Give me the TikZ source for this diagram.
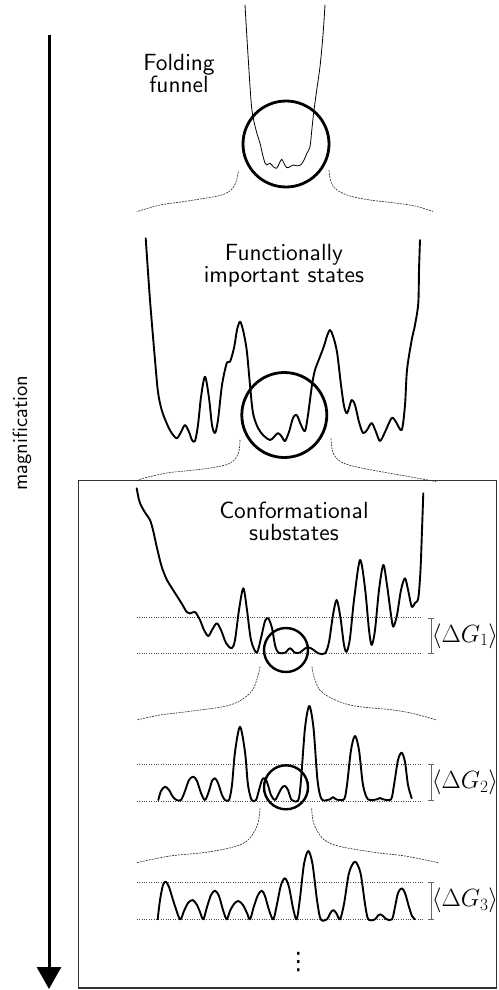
\documentclass[tikz,border=0pt]{standalone}
\usetikzlibrary{arrows.meta}
\font\lblfont=cmss10 at 23.4pt
\font\magfont=cmss10 at 20.5pt
\font\dotfont="DejaVu Sans" at 24pt
\begin{document}
\begin{tikzpicture}[x=1pt,y=-1pt,
  land/.style={line width=1.9pt, line join=round, line cap=round},
  thinland/.style={line width=0.8pt, line join=round, line cap=round},
  lens/.style={line width=2.8pt},
  smalllens/.style={line width=2.4pt},
  zoomline/.style={line width=0.6pt, dash pattern=on 2pt off 1pt, black!85},
  level/.style={line width=0.6pt, dash pattern=on 0.8pt off 1.6pt, black!70},
  gap/.style={line width=0.6pt, black!60, {Bar[width=6pt,line width=0.6pt]}-{Bar[width=6pt,line width=0.6pt]}},
  lbl/.style={font=\lblfont, anchor=base, inner sep=0pt},
  mlbl/.style={font=\fontsize{23}{27}\selectfont, inner sep=0pt}
]
\useasboundingbox (0,0) rectangle (498,990);

% magnification arrow
\coordinate (atop) at (49,35);
\coordinate (abot) at (49,989);
\draw[line width=3pt, -{Triangle[width=24pt,length=22pt]}] (atop) -- (abot);
\node[font=\magfont, rotate=90, inner sep=0pt] (mag) at (22,433) {magnification};

% frame
\draw[line width=1.5pt, black!80] (78.5,480.5) rectangle (496.5,988);

% ---------- Level 1: folding funnel ----------
\node[lbl] (ff1) at (179,70.7) {Folding};
\node[lbl] (ff2) at (179,92.5) {funnel};
\draw[thinland] plot[smooth, tension=0.5] coordinates {
 (245,5) (248,55) (251.7,108) (256,130) (260,143.3) (262.7,155) (265,163)
 (266.7,165) (270,163.3) (273.3,166.7) (276.7,168.3) (279.3,163.3) (281.7,159.3)
 (284,163.3) (286.7,167.7) (290,166.7) (293.3,165) (296.7,165.7) (300.7,165)
 (304,160) (307,153) (310,146.7) (312,128) (314,110) (317,88) (320,66.7) (323,35) (325,5)};
\draw[lens] (286,144) circle[radius=43];
\draw[zoomline] plot[smooth, tension=0.6] coordinates {
 (238.3,171.7) (236,182) (231,190) (220,195.5) (200,199) (183,201.7) (160,205) (136.7,211.7)};
\draw[zoomline] plot[smooth, tension=0.6] coordinates {
 (329,170) (331,182) (337,190) (350,196) (370,200) (395,203) (415,206) (433,211.5)};

% ---------- Level 2: functionally important states ----------
\node[lbl] (fi1) at (284,260) {Functionally};
\node[lbl] (fi2) at (284,282) {important states};
\draw[land] plot[smooth, tension=0.5] coordinates {
 (145.7,238.3) (150,300) (155,360) (158,392) (161.7,410) (166.7,423.3) (171,432)
 (176.7,438.3) (181,432) (185,425) (189,432) (192,440) (195,441) (198,425)
 (201,397) (205,376.7) (209,398) (212,425) (215,433) (218,420) (222,385)
 (226.7,363.3) (230,361.7) (234,348) (237,330) (240,321.7) (243,330) (246.7,350)
 (250,385) (253,413) (258,428) (264,436) (270,440) (274,437) (278,433) (282,437)
 (285,441) (289,432) (293,418) (296.7,415) (301,425) (305,431) (308,415)
 (312,385) (315,370) (320,356.7) (324,346) (327,336) (330,330) (333,336)
 (337,352) (341,385) (344,406) (346.7,413.3) (349,408) (351.7,400) (355,405)
 (359,422) (363,433) (367,430) (371.7,423) (376,432) (380,441) (385,432)
 (391.7,418) (396,422) (401.7,430) (405,405) (407,370) (411.7,340) (415,325)
 (418.3,303) (419,270) (420,240)};
\draw[lens] (284.3,415) circle[radius=42.5];
\draw[zoomline] plot[smooth, tension=0.6] coordinates {
 (240,440) (238.3,453.3) (230,463.3) (210,468) (185,471) (166.7,473) (143.3,478.3) (136.7,481)};
\draw[zoomline] plot[smooth, tension=0.6] coordinates {
 (331,438.3) (333.3,453.3) (343.3,463) (366.7,469) (400,475) (436,481.5)};

% ---------- Level 3: conformational substates ----------
\node[lbl] (cs1) at (294,518) {Conformational};
\node[lbl] (cs2) at (294,540) {substates};
\draw[level] (136.7,617.7) -- (421,617.7);
\draw[level] (136.7,653.3) -- (421,653.3);
\draw[gap] (431,617.7) -- (431,653.3);
\node[mlbl] (dg1) at (465,636) {$\langle\Delta G_1\rangle$};
\draw[land] plot[smooth, tension=0.5] coordinates {
 (136.7,488.3) (139,500) (141.7,506.7) (146,514) (150,520) (153,530) (157,548)
 (161.7,566.7) (167,580) (175,593) (182,604) (186.7,612) (190,613.5) (195,612)
 (200,620) (204,630) (208.3,636) (212,630) (216.7,623.3) (221,630) (226,643)
 (231.7,648.3) (235,640) (239,610) (243.3,588.3) (247,610) (251,640)
 (256.7,652.7) (261,638) (265,621) (268.3,618.3) (272,628) (275,645)
 (278.3,652.7) (285,652.7) (290,648.3) (295,652.7) (300,652.5) (305,648.5)
 (309,647.5) (313,649.5) (318.3,653.3) (325,653.3) (329,642) (333,615)
 (336.7,600) (340.5,618) (344,645) (346.7,651.7) (350,638) (354,600)
 (360,560) (365,588) (369,630) (371.7,645) (375,630) (379,590) (383.3,565)
 (387,585) (391,615) (393.3,626.7) (397,615) (401,590) (405,578.3) (408.5,592)
 (411.7,606.7) (415,603) (418.3,598) (420.5,570) (422,530) (423.3,493.3)};
\draw[smalllens] (286,650) circle[radius=22];
\draw[zoomline] plot[smooth, tension=0.6] coordinates {
 (260,666.7) (256.7,680) (250,693) (230,705) (186.7,711.7) (160,715) (136.7,720)};
\draw[zoomline] plot[smooth, tension=0.6] coordinates {
 (312,666.7) (315,680) (323.3,693.3) (350,705) (393.3,710) (415,714) (436.7,720)};

% ---------- Level 4 ----------
\draw[level] (136.7,764.3) -- (421,764.3);
\draw[level] (136.7,801) -- (421,801);
\draw[gap] (431,764.3) -- (431,801);
\node[mlbl] (dg2) at (465,782.7) {$\langle\Delta G_2\rangle$};
\draw[land] plot[smooth, tension=0.5] coordinates {
 (158.3,800) (161,791) (165,786.7) (169,790) (173,797) (176.7,800) (181,800)
 (185,791) (189,780) (193.3,776.7) (197,781) (201,793) (205,800) (209,791)
 (212,781) (215,778.3) (218,783) (222,795) (225,800) (229,800) (232,785)
 (235,752) (240,726.7) (245,752) (248,785) (251.7,800) (256,800) (259,790)
 (262,780) (264.3,778.3) (267,782) (271,795) (275,800) (279,793) (282,787.5)
 (285,786) (288,790) (291.7,800) (298.3,800) (301,780) (305,728) (309.3,706)
 (313.5,728) (317.5,780) (321.7,799.3) (330,799.3) (333,797) (336,799.3)
 (344,799.3) (347,785) (351,750) (355,736) (359,750) (363,785) (368,799.3)
 (377,799.3) (380,798) (383,799.3) (391,799.3) (394,785) (398,760)
 (401.7,752.7) (405,762) (408,785) (411.7,798.3)};
\draw[smalllens] (286,787.3) circle[radius=22];
\draw[zoomline] plot[smooth, tension=0.6] coordinates {
 (260,808.3) (256.7,826.7) (243.3,843.3) (210,851.7) (170,856) (136.7,862.7)};
\draw[zoomline] plot[smooth, tension=0.6] coordinates {
 (311.7,808.3) (315,826.7) (330,843.3) (370,851.7) (405,856) (438.3,862.7)};

% ---------- Level 5 ----------
\draw[level] (136.7,882.3) -- (423,882.3);
\draw[level] (136.7,919.3) -- (423,919.3);
\draw[gap] (431,882.3) -- (431,919.3);
\node[mlbl] (dg3) at (465,900.7) {$\langle\Delta G_3\rangle$};
\draw[land] plot[smooth, tension=0.5] coordinates {
 (157.7,919.3) (160,900) (163,885) (165.7,881.7) (169,887) (174,903) (180,919.3)
 (184,911) (188,903) (192.7,900) (197,905) (200,912) (203.3,919.3) (207,907)
 (211,895) (215,890.7) (219,896) (223,910) (226.7,919.3) (230,911) (234,904)
 (238.3,901) (243,905) (247,913) (250,919.3) (254,906) (258,895) (261.7,890.7)
 (265,896) (269,910) (273.3,919.3) (277,904) (281,885) (285,878.3) (289,887)
 (293,908) (296.7,919.3) (300,898) (304,864) (308.3,851) (312.5,864)
 (317,900) (320.7,919.3) (327,919.3) (330,913.5) (333.3,910) (336.5,913.5)
 (340,919.3) (344,904) (349,873) (355,861.7) (360.5,873) (365,904) (368.3,919.3)
 (375,919.3) (378,915.5) (380.5,914.3) (383,916) (386.7,919.3) (392,919.3)
 (395,907) (398,893) (401.7,888.3) (405,893) (409,907) (412,916) (415,919.3)};
\node[font=\dotfont, inner sep=0pt] (more) at (298.3,961.7) {^^^^22ee};
\end{tikzpicture}
\end{document}
